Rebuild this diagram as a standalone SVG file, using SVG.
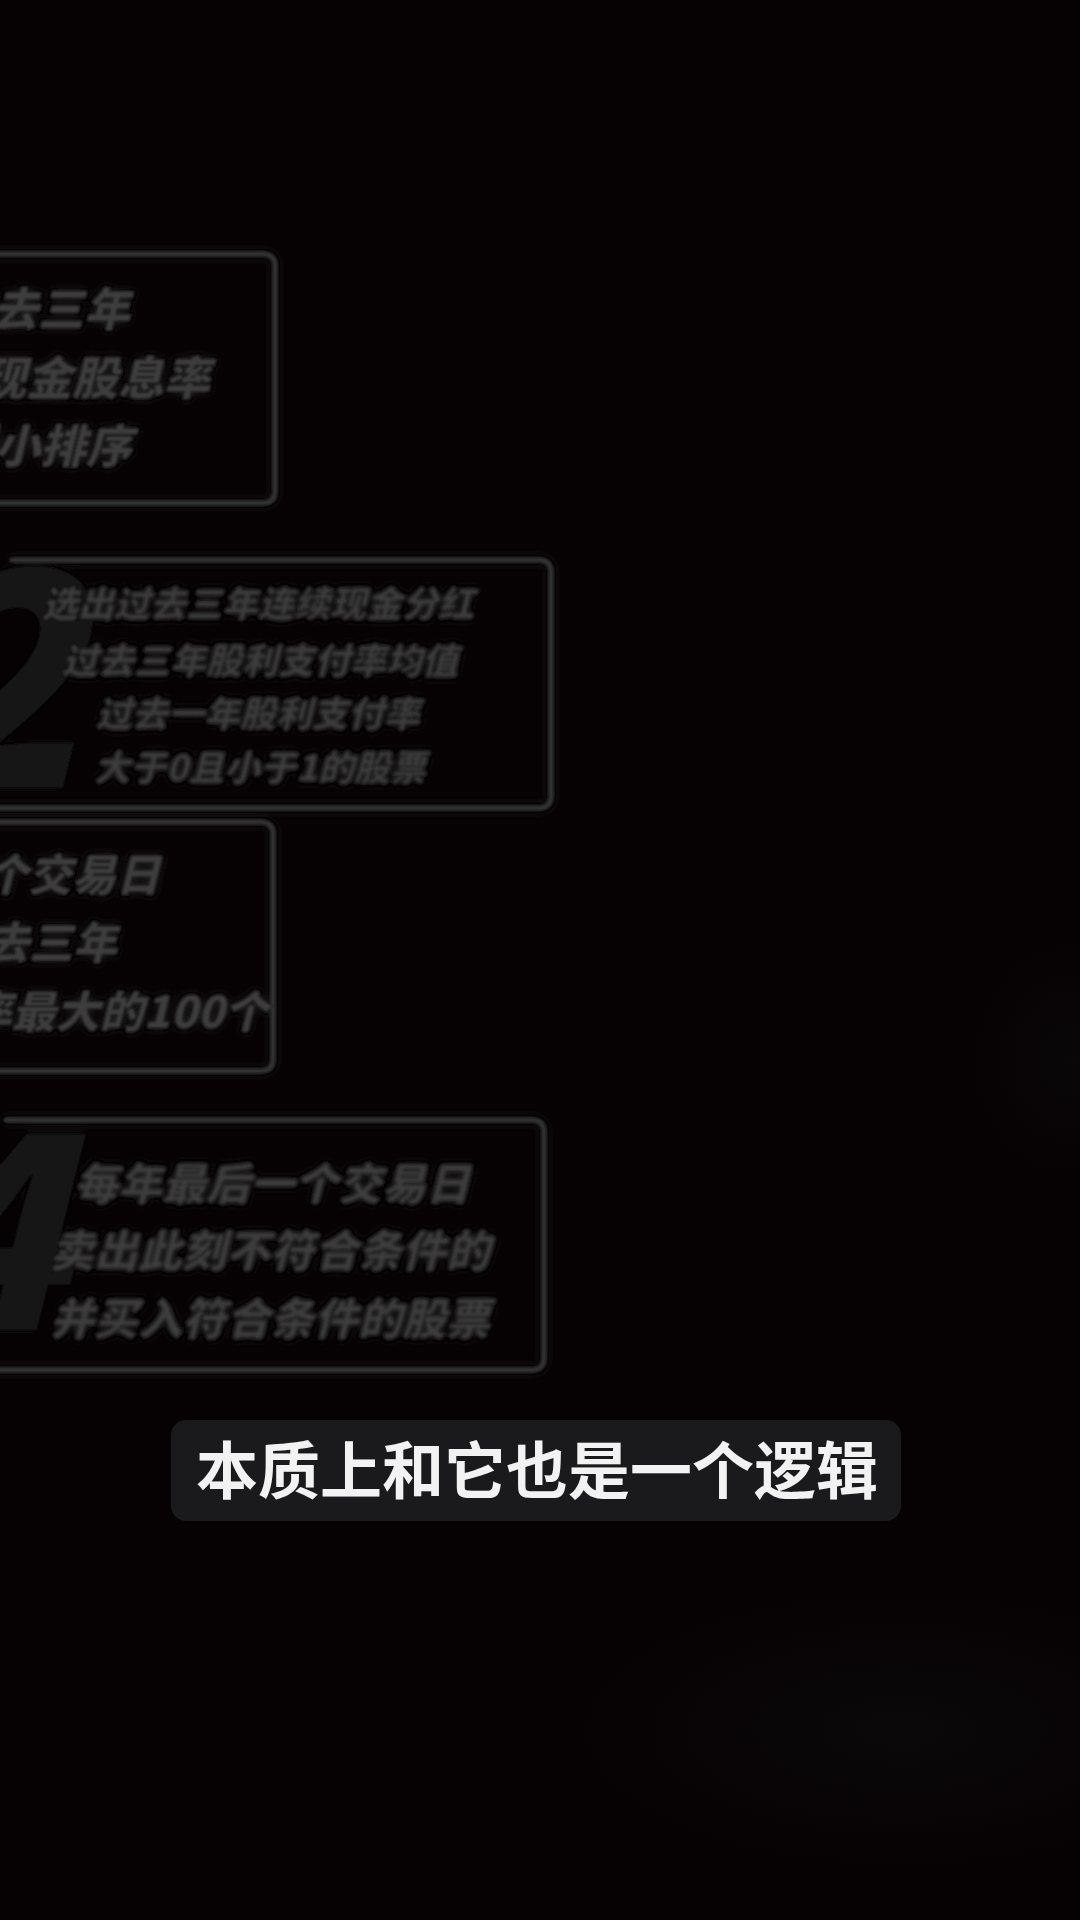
<svg xmlns="http://www.w3.org/2000/svg" width="1080" height="1920" viewBox="0 0 1080 1920">
<defs>
<filter id="glow" x="-10%" y="-10%" width="120%" height="120%">
<feGaussianBlur in="SourceGraphic" stdDeviation="4" result="b"/>
<feComponentTransfer in="b" result="h"><feFuncA type="linear" slope="0.7"/></feComponentTransfer>
<feGaussianBlur in="SourceGraphic" stdDeviation="0.9" result="s"/>
<feMerge><feMergeNode in="h"/><feMergeNode in="s"/></feMerge>
</filter>
<filter id="soft" x="-20%" y="-20%" width="140%" height="140%">
<feGaussianBlur stdDeviation="1.2"/>
</filter>
<radialGradient id="dots" cx="50%" cy="50%" r="50%">
<stop offset="0" stop-color="#121011" stop-opacity="0.8"/>
<stop offset="1" stop-color="#121011" stop-opacity="0"/>
</radialGradient>
</defs>
<style>
.frame{fill:none;stroke:#303030;stroke-width:5;stroke-linecap:round;stroke-linejoin:round}
.t{font-family:"Noto Sans CJK SC","Noto Sans",sans-serif;font-weight:900;font-style:italic;fill:#3d3d3d;stroke:#1c1c1c;stroke-width:1}
.big{font-family:"Noto Sans CJK SC","Noto Sans",sans-serif;font-weight:900;font-style:italic;fill:#141213}
.sub{font-family:"Noto Sans CJK SC","Noto Sans",sans-serif;font-weight:700;fill:#f2f2f2}
</style>
<rect width="1080" height="1920" fill="#060203"/>
<ellipse cx="1070" cy="1060" rx="100" ry="120" fill="url(#dots)" opacity="0.45"/>
<ellipse cx="900" cy="1730" rx="330" ry="140" fill="url(#dots)" opacity="0.55"/>

<g id="node1" filter="url(#glow)">
<path class="frame" d="M -10 254 H 263 Q 275 254 275 266 V 491 Q 275 503 263 503 H -10"/>
<text class="t" font-size="46" text-anchor="end" x="130" y="326">去三年</text>
<text class="t" font-size="46" text-anchor="end" x="210" y="395">现金股息率</text>
<text class="t" font-size="46" text-anchor="end" x="132" y="463">到小排序</text>
</g>

<g id="node2" filter="url(#glow)">
<text class="big" font-size="300" text-anchor="end" x="78" y="788">2</text>
<path class="frame" d="M 12 560 H 539 Q 551 560 551 572 V 796 Q 551 808 539 808 H -10"/>
<g filter="url(#soft)">
<text class="t" font-size="36" text-anchor="middle" x="258" y="617">选出过去三年连续现金分红</text>
<text class="t" font-size="36" text-anchor="middle" x="260" y="674">过去三年股利支付率均值</text>
<text class="t" font-size="36" text-anchor="middle" x="258" y="727">过去一年股利支付率</text>
<text class="t" font-size="36" text-anchor="middle" x="260" y="781">大于0且小于1的股票</text>
</g>
</g>

<g id="node3" filter="url(#glow)">
<path class="frame" d="M -10 822 H 261 Q 273 822 273 834 V 1059 Q 273 1071 261 1071 H -10"/>
<text class="t" font-size="44" text-anchor="end" x="160" y="891">个交易日</text>
<text class="t" font-size="44" text-anchor="end" x="117" y="959">去三年</text>
<text class="t" font-size="44" text-anchor="end" x="268" y="1028">率最大的100个</text>
</g>

<g id="node4" filter="url(#glow)">
<text class="big" font-size="270" text-anchor="end" x="66" y="1330">4</text>
<path class="frame" d="M 6 1120 H 532 Q 544 1120 544 1132 V 1358 Q 544 1370 532 1370 H -10"/>
<g filter="url(#soft)">
<text class="t" font-size="44" text-anchor="middle" x="272" y="1200">每年最后一个交易日</text>
<text class="t" font-size="44" text-anchor="middle" x="270" y="1267">卖出此刻不符合条件的</text>
<text class="t" font-size="44" text-anchor="middle" x="270" y="1335">并买入符合条件的股票</text>
</g>
</g>

<g id="connectors"></g>

<g id="subtitle">
<rect x="171" y="1420" width="730" height="101" rx="15" fill="#1a1a1c"/>
<text class="sub" font-size="62" text-anchor="middle" x="537" y="1494">本质上和它也是一个逻辑</text>
</g>
</svg>
